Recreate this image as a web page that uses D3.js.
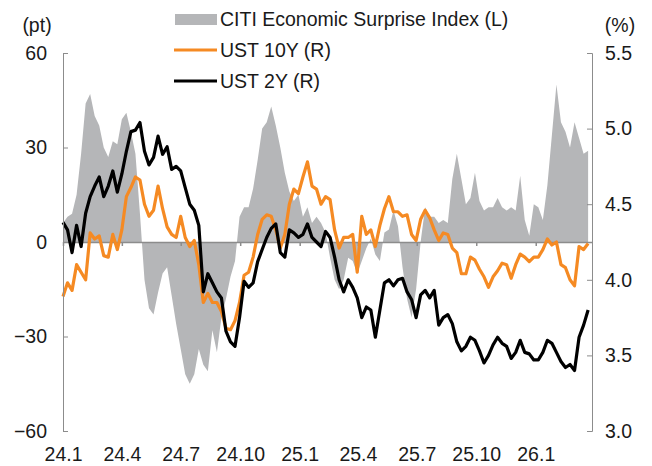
<!DOCTYPE html>
<html>
<head>
<meta charset="utf-8">
<script src="https://cdn.jsdelivr.net/npm/d3@7/dist/d3.min.js"></script>
<style>
	body { margin: 0; background: white; }
	text { font-family: "Liberation Sans", Arial, sans-serif; fill: #1a1a1a; }
</style>
</head>
<body>
<script>
// weekly observations starting 2024-01-01
var startDate = '2024-01-01'
var stepDays = 7

// CITI Economic Surprise Index (pt, left axis)
var cesi = [
	6, 8, 9, 15, 28, 44, 47, 40, 37, 30,
	27, 32, 31, 39, 41, 35, 28, 9, -12, -21,
	-23, -16, -10, -8, -17, -26, -34, -42, -45, -42,
	-34, -39, -41, -28, -35, -24, -18, -11, -6, 8,
	11, 11, 17, 26, 36, 38, 43, 37, 30, 22,
	16, 13, 15, 8, 11, 6, 8, 6, 3, -5,
	-12, -15, -12, -5, -6, -10, -6, -2, 1, -4,
	-6, 3, 4, 10, 5, -8, -18, -24, -15, 0,
	11, 8, 8, 6, 7, 6, 20, 28, 20, 12,
	14, 22, 13, 10, 11, 11, 14, 11, 10, 11,
	10, 21, 7, 2, 12, 11, 7, 18, 34, 50,
	38, 35, 30, 38, 33, 28, 29
]

// UST 10Y (%, right axis)
var ust10 = [
	3.89, 3.98, 3.93, 4.10, 4.05, 4.00, 4.31, 4.27, 4.29, 4.16,
	4.15, 4.30, 4.20, 4.33, 4.55, 4.61, 4.68, 4.66, 4.50, 4.42,
	4.46, 4.62, 4.47, 4.35, 4.30, 4.28, 4.42, 4.28, 4.22, 4.26,
	4.10, 3.85, 3.91, 3.85, 3.85, 3.79, 3.68, 3.67, 3.73, 3.85,
	4.03, 4.05, 4.15, 4.30, 4.40, 4.43, 4.42, 4.33, 4.21, 4.30,
	4.50, 4.60, 4.57, 4.68, 4.78, 4.62, 4.60, 4.50, 4.55, 4.53,
	4.33, 4.21, 4.28, 4.28, 4.30, 4.05, 4.42, 4.30, 4.33, 4.22,
	4.36, 4.47, 4.55, 4.45, 4.45, 4.42, 4.43, 4.30, 4.26, 4.40,
	4.46, 4.41, 4.33, 4.26, 4.31, 4.30, 4.21, 4.18, 4.04, 4.04,
	4.15, 4.13, 4.07, 4.02, 3.95, 4.02, 4.06, 4.11, 4.10, 4.01,
	4.10, 4.17, 4.15, 4.12, 4.15, 4.15, 4.20, 4.27, 4.23, 4.25,
	4.10, 4.08, 4.00, 3.96, 4.22, 4.20, 4.24
]

// UST 2Y (%, right axis)
var ust2 = [
	4.38, 4.33, 4.18, 4.36, 4.22, 4.44, 4.55, 4.62, 4.68, 4.55,
	4.62, 4.72, 4.58, 4.70, 4.85, 4.98, 4.99, 5.04, 4.85, 4.76,
	4.81, 4.95, 4.83, 4.88, 4.73, 4.75, 4.72, 4.61, 4.50, 4.46,
	4.36, 3.92, 4.04, 3.98, 3.92, 3.88, 3.66, 3.59, 3.56, 3.75,
	3.99, 3.95, 3.98, 4.12, 4.20, 4.28, 4.34, 4.37, 4.18, 4.15,
	4.33, 4.31, 4.28, 4.30, 4.37, 4.28, 4.25, 4.22, 4.32, 4.28,
	4.15, 4.00, 3.92, 4.00, 3.95, 3.88, 3.75, 3.82, 3.80, 3.62,
	3.80, 3.98, 4.00, 3.96, 4.00, 4.01, 3.92, 3.87, 3.75, 3.90,
	3.93, 3.88, 3.93, 3.70, 3.75, 3.77, 3.71, 3.59, 3.53, 3.56,
	3.62, 3.60, 3.53, 3.45, 3.50, 3.57, 3.62, 3.58, 3.56, 3.48,
	3.52, 3.60, 3.52, 3.51, 3.47, 3.47, 3.52, 3.60, 3.58, 3.52,
	3.46, 3.42, 3.44, 3.40, 3.62, 3.70, 3.80
]

var tickDates = ['2024-01-01', '2024-04-01', '2024-07-01', '2024-10-01', '2025-01-01',
	'2025-04-01', '2025-07-01', '2025-10-01', '2026-01-01']
var tickLabels = ['24.1', '24.4', '24.7', '24.10', '25.1', '25.4', '25.7', '25.10', '26.1']
var leftTicks = [-60, -30, 0, 30, 60]
var rightTicks = [3.0, 3.5, 4.0, 4.5, 5.0, 5.5]
var legendLabels = ['CITI Economic Surprise Index (L)', 'UST 10Y (R)', 'UST 2Y (R)']

var parse = d3.utcParse('%Y-%m-%d')
var start = parse(startDate)
var dates = cesi.map((d, i) => d3.utcDay.offset(start, i * stepDays))

var width = 652,
	height = 466
var margin = {top: 53, right: 60, bottom: 35, left: 63}

var svg = d3.select('body').append('svg')
	.attr('width', width)
	.attr('height', height)
	.style('font-size', '19.5px')

var x = d3.scaleUtc()
	.domain([parse('2024-01-01'), parse('2026-03-29')])
	.range([margin.left, width - margin.right])

var yL = d3.scaleLinear()
	.domain([-60, 60])
	.range([height - margin.bottom, margin.top])

var yR = d3.scaleLinear()
	.domain([3.0, 5.5])
	.range([height - margin.bottom, margin.top])

var axisColor = '#8c8c8c'

// gray area
var area = d3.area()
	.x((d, i) => x(dates[i]))
	.y0(yL(0))
	.y1(d => yL(d))

svg.append('path')
	.datum(cesi)
	.attr('d', area)
	.attr('fill', '#b5b6b8')

// zero line with quarter ticks
var zeroAxis = svg.append('g')
	.attr('transform', 'translate(0,' + yL(0) + ')')
	.call(d3.axisBottom(x)
		.tickValues(tickDates.map(parse))
		.tickSize(4)
		.tickSizeOuter(0)
		.tickFormat(''))
zeroAxis.select('.domain').attr('stroke', axisColor).attr('stroke-width', 1.5)
zeroAxis.selectAll('.tick line').attr('stroke', axisColor).attr('stroke-width', 1.5)

// lines
var lineR = d3.line()
	.x((d, i) => x(dates[i]))
	.y(d => yR(d))

svg.append('path')
	.datum(ust10)
	.attr('d', lineR)
	.attr('fill', 'none')
	.attr('stroke', '#f58a23')
	.attr('stroke-width', 3.2)
	.attr('stroke-linejoin', 'round')

svg.append('path')
	.datum(ust2)
	.attr('d', lineR)
	.attr('fill', 'none')
	.attr('stroke', '#000')
	.attr('stroke-width', 3.2)
	.attr('stroke-linejoin', 'round')

// left axis
var leftAxis = svg.append('g')
	.attr('transform', 'translate(' + margin.left + ',0)')
	.call(d3.axisLeft(yL)
		.tickValues(leftTicks)
		.tickSize(-5)
		.tickSizeOuter(-5)
		.tickPadding(16)
		.tickFormat(d => String(d).replace('-', '\u2212')))

// right axis
var rightAxis = svg.append('g')
	.attr('transform', 'translate(' + (width - margin.right) + ',0)')
	.call(d3.axisRight(yR)
		.tickValues(rightTicks)
		.tickSize(-5)
		.tickSizeOuter(-5)
		.tickPadding(13)
		.tickFormat(d3.format('.1f')))

// bottom labels
var bottomAxis = svg.append('g')
	.attr('transform', 'translate(0,' + (height - margin.bottom) + ')')
	.call(d3.axisBottom(x)
		.tickValues(tickDates.map(parse))
		.tickSize(0)
		.tickPadding(16)
		.tickFormat((d, i) => tickLabels[i]))
bottomAxis.select('.domain').remove()

;[leftAxis, rightAxis, bottomAxis].forEach(function (g) {
	g.attr('font-family', null).attr('font-size', null)
	g.selectAll('.domain').attr('stroke', axisColor)
	g.selectAll('.tick line').attr('stroke', axisColor)
	g.selectAll('text').attr('fill', '#1a1a1a')
})

// units
svg.append('text')
	.attr('x', 37)
	.attr('y', 25)
	.attr('text-anchor', 'middle')
	.attr('dominant-baseline', 'central')
	.text('(pt)')

svg.append('text')
	.attr('x', 620)
	.attr('y', 25)
	.attr('text-anchor', 'middle')
	.attr('dominant-baseline', 'central')
	.text('(%)')

// LEGEND
var legendY = [19, 50, 81]
var legend = svg.append('g')

legend.append('rect')
	.attr('x', 175)
	.attr('y', legendY[0] - 5)
	.attr('width', 42)
	.attr('height', 11)
	.attr('fill', '#b5b6b8')

legend.append('line')
	.attr('x1', 174).attr('x2', 217)
	.attr('y1', legendY[1]).attr('y2', legendY[1])
	.attr('stroke', '#f58a23')
	.attr('stroke-width', 3)

legend.append('line')
	.attr('x1', 174).attr('x2', 217)
	.attr('y1', legendY[2]).attr('y2', legendY[2])
	.attr('stroke', '#000')
	.attr('stroke-width', 3)

legend.selectAll('legend_labels')
	.data(legendLabels)
	.enter()
	.append('text')
		.attr('x', 220)
		.attr('y', (d, i) => legendY[i])
		.attr('dominant-baseline', 'central')
		.text(d => d)
</script>
</body>
</html>
